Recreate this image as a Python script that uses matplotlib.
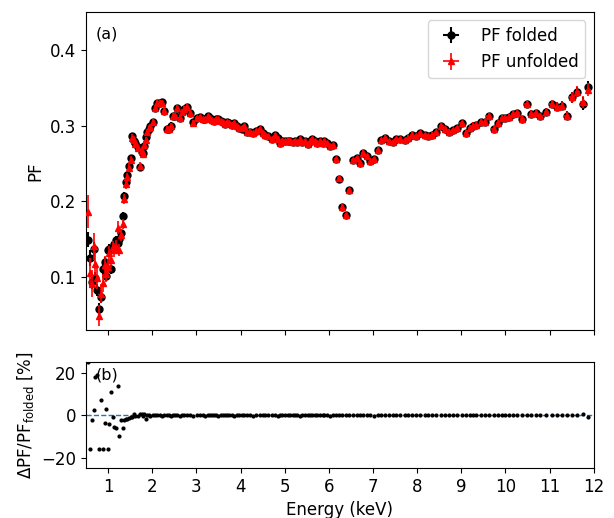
import numpy as np
import matplotlib
matplotlib.use('Agg')
import matplotlib.pyplot as plt

plt.rcParams['font.size'] = 12

# Energy bins (keV)
energy = [
    0.54, 0.59, 0.63, 0.68, 0.71, 0.75, 0.80, 0.84, 0.89, 0.92, 0.96, 0.99,
    1.02, 1.07, 1.11, 1.14, 1.19, 1.22, 1.25, 1.29, 1.34, 1.37,
    1.41, 1.44, 1.48, 1.52, 1.54, 1.58, 1.62, 1.67, 1.73, 1.76, 1.79, 1.82,
    1.85, 1.88, 1.92, 1.96, 2.02, 2.07, 2.12, 2.18, 2.22, 2.26, 2.33, 2.37,
    2.42, 2.48, 2.52, 2.56, 2.62, 2.67, 2.72, 2.78, 2.86, 2.93,
    3.01, 3.09, 3.15, 3.20, 3.26, 3.31, 3.36, 3.40, 3.45, 3.50, 3.55, 3.61,
    3.66, 3.70, 3.75, 3.80, 3.86, 3.92, 3.97, 4.03, 4.07, 4.14, 4.22, 4.29,
    4.36, 4.44, 4.50, 4.56, 4.63, 4.71, 4.78, 4.84, 4.89, 4.95, 5.01, 5.07,
    5.12, 5.18, 5.23, 5.29, 5.35, 5.40, 5.46, 5.53, 5.58, 5.63, 5.69, 5.74,
    5.80, 5.86, 5.90, 5.95, 6.02, 6.09, 6.16, 6.23, 6.31, 6.39, 6.46, 6.54,
    6.63, 6.70, 6.78, 6.87, 6.94, 7.03, 7.12, 7.19, 7.27, 7.36, 7.45, 7.53,
    7.62, 7.72, 7.79, 7.89, 7.97,
    8.06, 8.17, 8.25, 8.34, 8.43, 8.55, 8.64, 8.73, 8.81, 8.90, 9.01, 9.11,
    9.19, 9.26, 9.34, 9.44, 9.53, 9.62, 9.73, 9.83, 9.93, 10.00, 10.08, 10.17,
    10.27, 10.38, 10.48, 10.59, 10.69, 10.79, 10.93, 11.05, 11.16, 11.28,
    11.39, 11.51, 11.63, 11.75, 11.88,
]

# Pulsed fraction from the folded analysis
pf_folded = [
    0.149, 0.125, 0.093, 0.137, 0.099, 0.083, 0.058, 0.073, 0.110, 0.120, 0.101, 0.135,
    0.137, 0.110, 0.140, 0.143, 0.149, 0.145, 0.150, 0.158, 0.181, 0.207,
    0.226, 0.235, 0.247, 0.257, 0.286, 0.280, 0.277, 0.272, 0.245, 0.265, 0.264, 0.273,
    0.285, 0.292, 0.296, 0.299, 0.304, 0.323, 0.330, 0.330, 0.331, 0.319, 0.296, 0.295,
    0.300, 0.312, 0.312, 0.323, 0.310, 0.318, 0.322, 0.325, 0.316, 0.304,
    0.310, 0.311, 0.308, 0.309, 0.312, 0.310, 0.307, 0.306, 0.308, 0.309, 0.306, 0.304,
    0.302, 0.304, 0.303, 0.301, 0.303, 0.299, 0.297, 0.296, 0.299, 0.292, 0.292, 0.290,
    0.293, 0.295, 0.290, 0.288, 0.286, 0.282, 0.287, 0.283, 0.277, 0.280, 0.279, 0.280,
    0.279, 0.278, 0.279, 0.278, 0.282, 0.278, 0.279, 0.275, 0.279, 0.282, 0.279, 0.277,
    0.279, 0.277, 0.279, 0.277, 0.273, 0.274, 0.256, 0.230, 0.193, 0.182, 0.215, 0.254,
    0.257, 0.251, 0.264, 0.260, 0.253, 0.256, 0.268, 0.281, 0.284, 0.279, 0.278, 0.282,
    0.282, 0.281, 0.284, 0.288, 0.286,
    0.290, 0.287, 0.286, 0.288, 0.291, 0.300, 0.296, 0.292, 0.294, 0.297, 0.303, 0.290,
    0.297, 0.300, 0.301, 0.304, 0.304, 0.313, 0.296, 0.303, 0.310, 0.310, 0.311, 0.315,
    0.316, 0.308, 0.328, 0.315, 0.316, 0.312, 0.318, 0.328, 0.325, 0.326,
    0.313, 0.337, 0.344, 0.329, 0.351,
]

# Difference unfolded vs folded, in percent of the folded value
resid_pct = [
    25.0, -16.0, -2.0, 2.5, 18.0, 19.0, -16.0, 7.0, -16.0, -3.5, 3.0, -16.0,
    -4.0, 11.0, -0.7, -5.3, -6.0, 14.0, -9.5, -2.0, -6.0, -2.0,
    -1.5, -1.5, -1.2, -1.0, -1.0, 0.5, -0.5, -0.5, 0.5, 0.5, -0.5, 0.5,
    -1.5, 0.0, 0.2, -0.3, 0.0, 0.2, 0.1, 0.0, -0.2, 0.1, 0.0, 0.1,
    -0.1, 0.0, 0.1, 0.0, -0.1, 0.0, 0.1, 0.0, 0.0, -0.1,
    0.0, 0.1, 0.0, -0.1, 0.0, 0.0, 0.1, 0.0, 0.0, -0.1, 0.0, 0.0,
    0.1, 0.0, 0.0, 0.0, -0.1, 0.0, 0.0, 0.1, 0.0, 0.0, 0.0, -0.1,
    0.0, 0.0, 0.1, 0.0, 0.0, 0.0, 0.0, -0.1, 0.0, 0.0, 0.0, 0.1,
    0.0, 0.0, 0.0, 0.0, -0.1, 0.0, 0.0, 0.0, 0.0, 0.1, 0.0, 0.0,
    0.0, 0.0, 0.0, 0.0, -0.1, 0.0, 0.0, 0.1, 0.0, 0.0, 0.0, 0.0,
    0.0, 0.0, 0.0, 0.0, 0.0, -0.1, 0.0, 0.0, 0.0, 0.0, 0.1, 0.0,
    0.0, 0.0, 0.0, 0.0, 0.0,
    0.0, 0.0, 0.0, 0.0, 0.0, 0.0, 0.0, 0.0, 0.0, 0.0, 0.0, 0.0,
    0.0, 0.0, 0.0, 0.0, 0.0, 0.0, 0.0, 0.0, 0.0, 0.0, 0.0, 0.0,
    0.0, 0.0, 0.0, 0.0, 0.0, 0.0, 0.0, 0.1, 0.0, 0.0,
    0.0, 0.1, 0.2, 0.5, -1.0,
]

err_folded = [
    0.010, 0.010, 0.009, 0.009, 0.008, 0.008, 0.008, 0.007, 0.007, 0.007, 0.006, 0.006,
    0.006, 0.006, 0.005, 0.005, 0.005, 0.005, 0.005, 0.005, 0.005, 0.005,
    0.005, 0.005, 0.004, 0.004, 0.004, 0.004, 0.004, 0.004, 0.004, 0.004, 0.004, 0.004,
    0.004, 0.004, 0.004, 0.004, 0.004, 0.004, 0.004, 0.004, 0.004, 0.004, 0.004, 0.004,
    0.004, 0.004, 0.004, 0.004, 0.004, 0.004, 0.004, 0.004, 0.004, 0.004,
    0.003, 0.003, 0.003, 0.003, 0.003, 0.003, 0.003, 0.003, 0.003, 0.003, 0.003, 0.003,
    0.003, 0.003, 0.003, 0.003, 0.003, 0.003, 0.003, 0.003, 0.003, 0.003, 0.003, 0.003,
    0.003, 0.003, 0.003, 0.003, 0.003, 0.003, 0.003, 0.003, 0.003, 0.003, 0.003, 0.003,
    0.003, 0.003, 0.003, 0.003, 0.003, 0.003, 0.003, 0.003, 0.003, 0.003, 0.003, 0.003,
    0.003, 0.003, 0.003, 0.003, 0.003, 0.003, 0.003, 0.003, 0.003, 0.003, 0.003, 0.003,
    0.003, 0.003, 0.003, 0.003, 0.003, 0.003, 0.003, 0.003, 0.003, 0.003, 0.003, 0.003,
    0.003, 0.003, 0.003, 0.003, 0.003,
    0.003, 0.003, 0.003, 0.003, 0.003, 0.003, 0.003, 0.003, 0.003, 0.003, 0.003, 0.004,
    0.004, 0.004, 0.004, 0.004, 0.004, 0.004, 0.004, 0.004, 0.004, 0.004, 0.004, 0.004,
    0.005, 0.005, 0.005, 0.005, 0.005, 0.005, 0.005, 0.005, 0.006, 0.006,
    0.006, 0.007, 0.007, 0.008, 0.008,
]

err_unfolded = [
    0.022, 0.020, 0.018, 0.018, 0.016, 0.015, 0.014, 0.013, 0.012, 0.012, 0.011, 0.010,
    0.010, 0.010, 0.009, 0.009, 0.009, 0.008, 0.008, 0.008, 0.007, 0.007,
    0.006, 0.006, 0.005, 0.005, 0.005, 0.005, 0.005, 0.005, 0.005, 0.005, 0.005, 0.005,
    0.004, 0.004, 0.004, 0.004, 0.004, 0.004, 0.004, 0.004, 0.004, 0.004, 0.004, 0.004,
    0.004, 0.004, 0.004, 0.004, 0.004, 0.004, 0.004, 0.004, 0.004, 0.004,
    0.003, 0.003, 0.003, 0.003, 0.003, 0.003, 0.003, 0.003, 0.003, 0.003, 0.003, 0.003,
    0.003, 0.003, 0.003, 0.003, 0.003, 0.003, 0.003, 0.003, 0.003, 0.003, 0.003, 0.003,
    0.003, 0.003, 0.003, 0.003, 0.003, 0.003, 0.003, 0.003, 0.003, 0.003, 0.003, 0.003,
    0.003, 0.003, 0.003, 0.003, 0.003, 0.003, 0.003, 0.003, 0.003, 0.003, 0.003, 0.003,
    0.003, 0.003, 0.003, 0.003, 0.003, 0.003, 0.003, 0.003, 0.003, 0.003, 0.003, 0.003,
    0.003, 0.003, 0.003, 0.003, 0.003, 0.003, 0.003, 0.003, 0.003, 0.003, 0.003, 0.003,
    0.003, 0.003, 0.003, 0.003, 0.003,
    0.003, 0.003, 0.003, 0.003, 0.003, 0.003, 0.003, 0.003, 0.003, 0.003, 0.003, 0.004,
    0.004, 0.004, 0.004, 0.004, 0.004, 0.004, 0.004, 0.004, 0.004, 0.004, 0.004, 0.004,
    0.005, 0.005, 0.005, 0.005, 0.005, 0.005, 0.005, 0.005, 0.006, 0.006,
    0.006, 0.007, 0.007, 0.008, 0.008,
]

energy = np.array(energy)
pf_folded = np.array(pf_folded)
resid_pct = np.array(resid_pct)
pf_unfolded = pf_folded * (1 + resid_pct / 100.0)
# half bin width as the energy error
e_halfwidth = np.gradient(energy) / 2.0

fig = plt.figure(figsize=(6.14, 5.18), dpi=100)
ax1 = fig.add_axes([0.140, 0.363, 0.827, 0.614])
ax2 = fig.add_axes([0.140, 0.0965, 0.827, 0.2046], sharex=ax1)

ax1.errorbar(energy, pf_folded, xerr=e_halfwidth, yerr=err_folded, fmt='o',
             color='k', ms=5, elinewidth=1.5, label='PF folded', zorder=2)
ax1.errorbar(energy, pf_unfolded, xerr=e_halfwidth, yerr=err_unfolded, fmt='^',
             color='r', ms=4, elinewidth=1.2, label='PF unfolded', zorder=3)
ax1.set_xlim(0.5, 12)
ax1.set_ylim(0.030, 0.450)
ax1.set_yticks([0.1, 0.2, 0.3, 0.4])
ax1.set_ylabel('PF')
ax1.tick_params(labelbottom=False)
ax1.legend(loc='upper right')
ax1.text(0.02, 0.93, '(a)', transform=ax1.transAxes, va='center', fontsize=11.5)

ax2.plot(energy, resid_pct, 'k.', ms=4)
ax2.axhline(0, ls='--', color='C0', lw=1, zorder=0)
ax2.set_ylim(-24.8, 25.1)
ax2.set_yticks([-20, 0, 20])
ax2.set_xticks(range(1, 13))
ax2.set_xlabel('Energy (keV)')
ax2.set_ylabel(r'$\Delta$PF/PF$_{\mathrm{folded}}$ [%]')
ax2.text(0.02, 0.88, '(b)', transform=ax2.transAxes, va='center', fontsize=11.5)

fig.savefig('out.png', dpi=100)
